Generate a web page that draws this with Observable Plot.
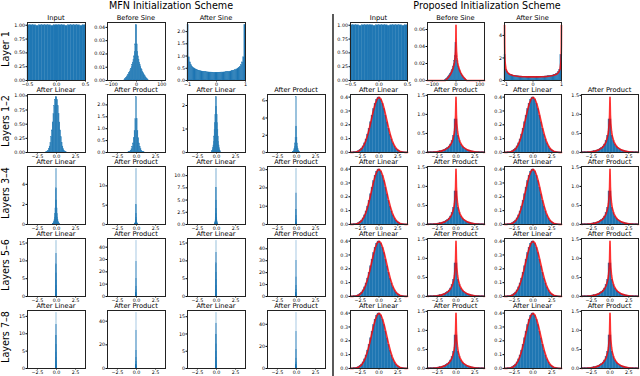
<!DOCTYPE html>
<html><head><meta charset="utf-8">
<script src="https://cdn.jsdelivr.net/npm/d3@7"></script>
<script src="https://cdn.jsdelivr.net/npm/@observablehq/plot@0.6"></script>
<style>
html,body{margin:0;padding:0;background:#fff;}
#root{position:relative;width:640px;height:376px;overflow:hidden;font-family:"DejaVu Sans";}
</style></head><body><div id="root"></div><script>
// ---------- labels ----------
const schemes = ["MFN Initialization Scheme", "Proposed Initialization Scheme"];
const rowLabels = ["Layer 1", "Layers 1\u20132", "Layers 3\u20134", "Layers 5\u20136", "Layers 7\u20138"];
const row1Titles = ["Input", "Before Sine", "After Sine"];
const layerTitles = ["After Linear", "After Product", "After Linear", "After Product"];

// ---------- tick labels ----------
const xTicksInput = ["\u22120.5", "0.0", "0.5"];
const xTicksBefore = ["\u2212100", "0", "100"];
const xTicksAfterSine = ["\u22121", "0", "1"];
const xTicksLayers = ["\u22122.5", "0.0", "2.5"];
const yTicksInput = ["0.00", "0.25", "0.50", "0.75", "1.00"];
const yTicksMfnBefore = ["0.00", "0.01", "0.02", "0.03", "0.04"];
const yTicksMfnAfterSine = ["0.0", "0.5", "1.0", "1.5", "2.0"];
const yTicksPropBefore = ["0.00", "0.02", "0.04", "0.06"];
const yTicksPropAfterSine = ["0", "2", "4"];
const yTicksPropLinear = ["0.0", "0.1", "0.2", "0.3", "0.4"];
const yTicksPropProduct = ["0.0", "0.5", "1.0", "1.5"];
const yTicksMfnLayers = [
  [["0.00","0.25","0.50","0.75","1.00"], ["0.0","0.5","1.0","1.5","2.0"], ["0","1","2"], ["0","2","4","6"]],
  [["0","2","4"], ["0","5","10"], ["0.0","2.5","5.0","7.5","10.0"], ["0","10","20","30"]],
  [["0","5","10","15"], ["0","10","20","30","40"], ["0","5","10","15"], ["0","10","20","30","40"]],
  [["0","5","10","15"], ["0","20","40"], ["0","5","10","15"], ["0","20","40"]]
];

// ---------- histogram heights (density) ----------
const inputHist = [1.00,1.00,1.00,0.99,1.00,1.00,1.00,1.00,0.99,1.00,1.00,1.00,1.00,0.99,1.00,1.00,1.00,1.00,0.99,1.00];
const mfnBeforeSine = [0.0003,0.0009,0.0013,0.0020,0.0026,0.0033,0.0041,0.0049,0.0057,0.0067,0.0078,0.0089,0.0102,0.0117,0.0135,0.0156,0.0182,0.0217,0.0272,0.0416,0.0416,0.0272,0.0217,0.0182,0.0156,0.0135,0.0117,0.0102,0.0089,0.0078,0.0067,0.0057,0.0049,0.0041,0.0033,0.0026,0.0020,0.0013,0.0009,0.0003];
const propBeforeSine = [0.0005,0.0011,0.0018,0.0025,0.0033,0.0041,0.0050,0.0060,0.0070,0.0081,0.0094,0.0108,0.0124,0.0143,0.0165,0.0193,0.0231,0.0290,0.0440,0.0440,0.0290,0.0231,0.0193,0.0165,0.0143,0.0124,0.0108,0.0094,0.0081,0.0070,0.0060,0.0050,0.0041,0.0033,0.0025,0.0018,0.0011,0.0005];
const afterSineHist = [2.2584,0.9463,0.7412,0.6224,0.5525,0.5092,0.4736,0.4474,0.4230,0.4052,0.3908,0.3783,0.3676,0.3585,0.3508,0.3442,0.3384,0.3339,0.3296,0.3264,0.3236,0.3215,0.3199,0.3190,0.3184,0.3184,0.3190,0.3199,0.3215,0.3236,0.3264,0.3296,0.3339,0.3384,0.3442,0.3508,0.3585,0.3676,0.3783,0.3908,0.4052,0.4230,0.4474,0.4736,0.5092,0.5525,0.6224,0.7412,0.9463,2.2584];
const gaussHist = [0.0004,0.0009,0.0017,0.0033,0.0060,0.0104,0.0175,0.0283,0.0440,0.0656,0.0940,0.1295,0.1714,0.2179,0.2661,0.3123,0.3521,0.3814,0.3970,0.3970,0.3814,0.3521,0.3123,0.2661,0.2179,0.1714,0.1295,0.0940,0.0656,0.0440,0.0283,0.0175,0.0104,0.0060,0.0033,0.0017,0.0009,0.0004];
const prodHist = [0.0050,0.0063,0.0079,0.0099,0.0124,0.0157,0.0198,0.0252,0.0321,0.041,0.0527,0.068,0.0886,0.116,0.155,0.210,0.296,0.440,0.868,0.868,0.440,0.296,0.210,0.155,0.116,0.0886,0.068,0.0527,0.041,0.0321,0.0252,0.0198,0.0157,0.0124,0.0099,0.0079,0.0063,0.0050];

const mfnL1Linear = [0.003,0.0075,0.016,0.032,0.060,0.105,0.173,0.268,0.390,0.531,0.680,0.819,0.929,0.975,0.975,0.929,0.819,0.680,0.531,0.390,0.268,0.173,0.105,0.060,0.032,0.016,0.0075,0.003];
const mfnL1Product = [0.01,0.02,0.04,0.08,0.14,0.24,0.38,0.6,0.9,1.4,2.32,1.4,0.9,0.6,0.38,0.24,0.14,0.08,0.04,0.02,0.01];
const mfnL2Linear = [0.02,0.05,0.1,0.18,0.3,0.46,0.68,0.95,1.25,1.6,1.95,2.35,2.35,1.95,1.6,1.25,0.95,0.68,0.46,0.3,0.18,0.1,0.05,0.02];
const mfnL2Product = [0.03,0.07,0.13,0.24,0.4,0.65,1.05,1.7,3.0,6.4,3.0,1.7,1.05,0.65,0.4,0.24,0.13,0.07,0.03];
const mfnL3Linear = [0.02,0.04,0.07,0.12,0.19,0.3,0.45,0.7,1.05,1.6,2.4,3.6,5.5,3.6,2.4,1.6,1.05,0.7,0.45,0.3,0.19,0.12,0.07,0.04,0.02];
const mfnL3Product = [0.05,0.1,0.17,0.28,0.45,0.7,1.1,1.7,2.8,5,14.3,5,2.8,1.7,1.1,0.7,0.45,0.28,0.17,0.1,0.05];
const mfnL4Linear = [0.04,0.09,0.17,0.3,0.5,0.85,1.35,2.1,3.2,4.9,7.5,11.3,7.5,4.9,3.2,2.1,1.35,0.85,0.5,0.3,0.17,0.09,0.04];
const mfnL4Product = [0.1,0.2,0.35,0.6,1.0,1.6,2.7,4.5,8,17,30.2,17,8,4.5,2.7,1.6,1.0,0.6,0.35,0.2,0.1];
const mfnL5Linear = [0.15,0.3,0.6,1.1,1.9,3,4.5,6.5,9,12,15.5,12,9,6.5,4.5,3,1.9,1.1,0.6,0.3,0.15];
const mfnL5Product = [0.3,0.6,1.1,1.8,3,5,8,14,28,44.8,28,14,8,5,3,1.8,1.1,0.6,0.3];
const mfnL6Linear = [0.15,0.3,0.6,1.1,1.9,3,4.6,6.7,9.3,12.3,15.5,12.3,9.3,6.7,4.6,3,1.9,1.1,0.6,0.3,0.15];
const mfnL6Product = [0.3,0.6,1.1,1.9,3.2,5.5,9,16,30,46.3,30,16,9,5.5,3.2,1.9,1.1,0.6,0.3];
const mfnL7Linear = [0.15,0.3,0.6,1.1,1.9,3,4.6,6.8,9.4,12.6,15.9,12.6,9.4,6.8,4.6,3,1.9,1.1,0.6,0.3,0.15];
const mfnL7Product = [0.3,0.6,1.1,1.9,3.2,5.5,9,15,32,46.7,32,15,9,5.5,3.2,1.9,1.1,0.6,0.3];
const mfnL8Linear = [0.15,0.3,0.6,1.1,2,3.1,4.8,7,9.8,13,16,13,9.8,7,4.8,3.1,2,1.1,0.6,0.3,0.15];
const mfnL8Product = [0.3,0.6,1.1,1.9,3.2,5.5,9,17,33,50,33,17,9,5.5,3.2,1.9,1.1,0.6,0.3];

// bin starts and widths (data units) for each histogram
const mfnLayerBins = [
  [[mfnL1Linear,-1.4,0.1],[mfnL1Product,-1.05,0.1],[mfnL2Linear,-0.6,0.05],[mfnL2Product,-0.475,0.05]],
  [[mfnL3Linear,-0.5,0.04],[mfnL3Product,-0.21,0.02],[mfnL4Linear,-0.23,0.02],[mfnL4Product,-0.105,0.01]],
  [[mfnL5Linear,-0.105,0.01],[mfnL5Product,-0.0475,0.005],[mfnL6Linear,-0.105,0.01],[mfnL6Product,-0.0475,0.005]],
  [[mfnL7Linear,-0.105,0.01],[mfnL7Product,-0.0475,0.005],[mfnL8Linear,-0.105,0.01],[mfnL8Product,-0.0475,0.005]]
];

// ---------- theoretical density curves (red) ----------
const beforeCurveX = [-120,-45,-40,-35,-30,-25,-20,-15,-10,-7,-4,-2,-1,-0.5,0,0.5,1,2,4,7,10,15,20,25,30,35,40,45,120];
const beforeCurveY = [0,0,0.0013,0.0028,0.0045,0.0065,0.0090,0.0122,0.0167,0.0207,0.0269,0.0346,0.0423,0.0500,0.0650,0.0500,0.0423,0.0346,0.0269,0.0207,0.0167,0.0122,0.0090,0.0065,0.0045,0.0028,0.0013,0,0];
const arcCurveX = [-0.998,-0.995,-0.99,-0.98,-0.95,-0.9,-0.85,-0.8,-0.7,-0.6,-0.5,-0.4,-0.3,-0.2,-0.1,0,0.1,0.2,0.3,0.4,0.5,0.6,0.7,0.8,0.85,0.9,0.95,0.98,0.99,0.995,0.998];
const arcCurveY = [4.9,3.187,2.256,1.600,1.019,0.730,0.604,0.531,0.446,0.398,0.368,0.347,0.334,0.325,0.320,0.318,0.320,0.325,0.334,0.347,0.368,0.398,0.446,0.531,0.604,0.730,1.019,1.600,2.256,3.187,4.9];
const normCurveX = [-3.8,-3.5,-3.25,-3,-2.75,-2.5,-2.25,-2,-1.75,-1.5,-1.25,-1,-0.75,-0.5,-0.25,0,0.25,0.5,0.75,1,1.25,1.5,1.75,2,2.25,2.5,2.75,3,3.25,3.5,3.8];
const normCurveY = [0.0003,0.0009,0.0020,0.0044,0.0091,0.0175,0.0317,0.0540,0.0863,0.1295,0.1826,0.2420,0.3011,0.3521,0.3867,0.3989,0.3867,0.3521,0.3011,0.2420,0.1826,0.1295,0.0863,0.0540,0.0317,0.0175,0.0091,0.0044,0.0020,0.0009,0.0003];
const prodCurveX = [-3.8,-3.5,-3,-2.5,-2,-1.5,-1,-0.75,-0.5,-0.3,-0.2,-0.1,-0.05,-0.02,0,0.02,0.05,0.1,0.2,0.3,0.5,0.75,1,1.5,2,2.5,3,3.5,3.8];
const prodCurveY = [0.0044,0.0062,0.011,0.0198,0.0363,0.068,0.134,0.195,0.294,0.437,0.558,0.773,0.991,1.28,1.45,1.28,0.991,0.773,0.558,0.437,0.294,0.195,0.134,0.068,0.0363,0.0198,0.011,0.0062,0.0044];

// ---------- helpers ----------
const hist = (h, x0, w) => h.map((v, i) => ({x1: x0 + i * w, x2: x0 + (i + 1) * w, y1: 0, y2: v}));
const curve = (xs, ys) => xs.map((x, i) => ({x, y: ys[i]}));
const num = s => +s.replace("\u2212", "-");

// ---------- panel table ----------
const panels = [];
panels.push({side:0,row:0,col:0,title:row1Titles[0],bins:hist(inputHist,-0.5,0.05),xDom:[-0.5,0.5],xTicks:xTicksInput,yTicks:yTicksInput});
panels.push({side:0,row:0,col:1,title:row1Titles[1],bins:hist(mfnBeforeSine,-48,2.4),xDom:[-115,115],xTicks:xTicksBefore,yTicks:yTicksMfnBefore});
panels.push({side:0,row:0,col:2,title:row1Titles[2],bins:hist(afterSineHist,-1,0.04),xDom:[-1,1],xTicks:xTicksAfterSine,yTicks:yTicksMfnAfterSine});
panels.push({side:1,row:0,col:0,title:row1Titles[0],bins:hist(inputHist,-0.5,0.05),xDom:[-0.5,0.5],xTicks:xTicksInput,yTicks:yTicksInput});
panels.push({side:1,row:0,col:1,title:row1Titles[1],bins:hist(propBeforeSine,-45.6,2.4),line:curve(beforeCurveX,beforeCurveY),xDom:[-120,120],xTicks:xTicksBefore,yTicks:yTicksPropBefore});
panels.push({side:1,row:0,col:2,title:row1Titles[2],bins:hist(afterSineHist,-1,0.04),line:curve(arcCurveX,arcCurveY),xDom:[-1,1],xTicks:xTicksAfterSine,yTicks:yTicksPropAfterSine});
for (let r = 0; r < 4; r++) {
  for (let c = 0; c < 4; c++) {
    const [h, x0, w] = mfnLayerBins[r][c];
    panels.push({side:0,row:r+1,col:c,title:layerTitles[c],bins:hist(h,x0,w),xDom:[-3.8,3.8],xTicks:xTicksLayers,yTicks:yTicksMfnLayers[r][c]});
    const lin = c % 2 === 0;
    panels.push({side:1,row:r+1,col:c,title:layerTitles[c],
      bins: lin ? hist(gaussHist,-3.8,0.2) : hist(prodHist,-3.8,0.2),
      line: lin ? curve(normCurveX,normCurveY) : curve(prodCurveX,prodCurveY),
      xDom:[-3.8,3.8],xTicks:xTicksLayers,yTicks: lin ? yTicksPropLinear : yTicksPropProduct});
  }
}

// ---------- layout ----------
const colL = [27, 107, 187, 267], colR = [350, 427, 504, 581];
const rowT = [22, 94, 166, 238, 310];
const PW = [58, 57], PH = 58;
const mL = 20, mR = 3, mT = 2, mB = 10;
const BLUE = "#1f77b4";
const root = document.getElementById("root");

for (const p of panels) {
  const left = (p.side ? colR : colL)[p.col], top = rowT[p.row], w = PW[p.side];
  const ymax = d3.max([...p.bins.map(b => b.y2), ...(p.line ? p.line.map(d => d.y) : [])]) * 1.05;
  const xm = new Map(p.xTicks.map(s => [num(s), s]));
  const ym = new Map(p.yTicks.map(s => [num(s), s]));
  const marks = [
    Plot.rect(p.bins, {x1: "x1", x2: "x2", y1: "y1", y2: "y2", fill: BLUE, stroke: BLUE, strokeWidth: 0.35, strokeOpacity: 0.9}),
    p.line ? Plot.line(p.line, {x: "x", y: "y", stroke: "#ff0000", strokeOpacity: 0.8, strokeWidth: 1.7}) : null,
    Plot.frame({stroke: "#222", strokeWidth: 1})
  ].filter(Boolean);
  const svg = Plot.plot({
    width: w + mL + mR, height: PH + mT + mB,
    marginLeft: mL, marginRight: mR, marginTop: mT, marginBottom: mB,
    style: {fontFamily: "DejaVu Sans", fontSize: "4.8px", background: "transparent", overflow: "visible", color: "#000"},
    x: {domain: p.xDom, ticks: [...xm.keys()], tickFormat: d => xm.get(d), tickSize: 1.5, tickPadding: 1, label: null},
    y: {domain: [0, ymax], ticks: [...ym.keys()], tickFormat: d => ym.get(d), tickSize: 1.5, tickPadding: 1, label: null},
    marks
  });
  svg.style.position = "absolute";
  svg.style.left = (left - mL) + "px";
  svg.style.top = (top - mT) + "px";
  root.append(svg);
}

// ---------- overlay: headers, row labels, titles, divider ----------
const ov = d3.select(root).append("svg")
  .attr("width", 640).attr("height", 376)
  .style("position", "absolute").style("left", "0px").style("top", "0px")
  .style("font-family", "DejaVu Sans");
ov.append("line").attr("x1", 333).attr("x2", 333).attr("y1", 14).attr("y2", 376)
  .attr("stroke", "#000").attr("stroke-width", 1.3);
[171, 487].forEach((x, i) => ov.append("text").attr("x", x).attr("y", 8.5).attr("fill", "#000")
  .attr("text-anchor", "middle").attr("font-size", 9.6).text(schemes[i]));
rowLabels.forEach((t, r) => ov.append("text").attr("fill", "#000")
  .attr("transform", `translate(8.5,${rowT[r] + PH / 2 - 2}) rotate(-90)`)
  .attr("text-anchor", "middle").attr("font-size", 9.6).text(t));
for (const p of panels) {
  const left = (p.side ? colR : colL)[p.col], w = PW[p.side];
  ov.append("text").attr("x", left + w / 2).attr("y", rowT[p.row] - 2.3).attr("fill", "#000")
    .attr("text-anchor", "middle").attr("font-size", 6.7).text(p.title);
}
</script></body></html>
